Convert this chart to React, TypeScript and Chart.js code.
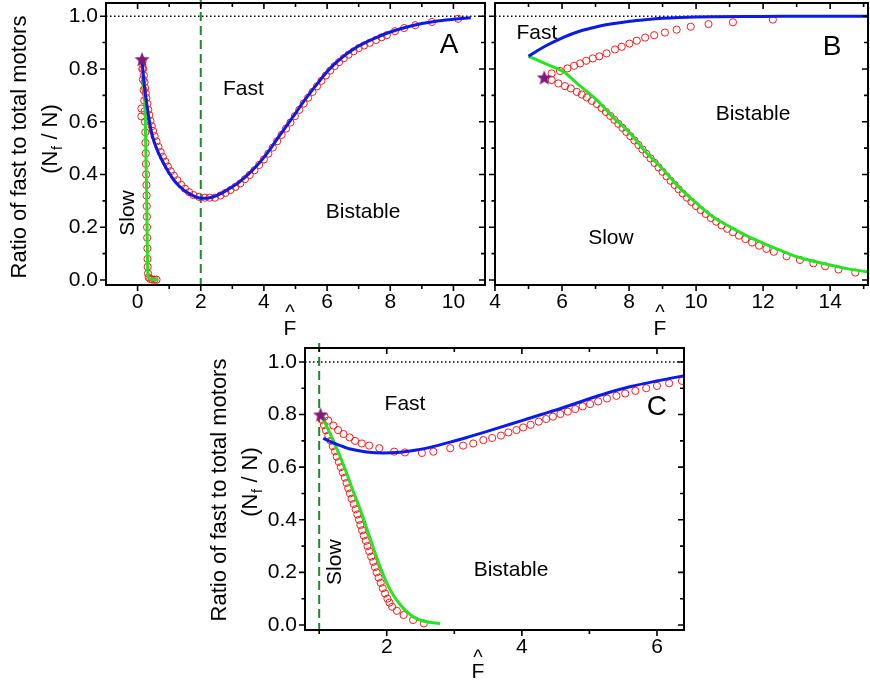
import React, { useEffect, useRef } from "react";
import { Chart, registerables } from "chart.js";
Chart.register(...registerables);

const FONT = '"Liberation Sans", Arial, Helvetica, sans-serif';

// ---------- tick values ----------
const aXMajor = [0, 2, 4, 6, 8, 10];
const aXMinor = [1, 3, 5, 7, 9];
const bXMajor = [4, 6, 8, 10, 12, 14];
const bXMinor = [5, 7, 9, 11, 13, 15];
const cXMajor = [2, 4, 6];
const cXMinor = [1, 3, 5];
const yMajor = [0, 0.2, 0.4, 0.6, 0.8, 1.0];
const yMinor = [0.1, 0.3, 0.5, 0.7, 0.9];

// ---------- panel A ----------
const aBlue = [[0.14,0.835],[0.18,0.78],[0.22,0.73],[0.28,0.675],[0.35,0.62],[0.45,0.555],[0.55,0.515],[0.65,0.485],[0.77,0.455],[0.95,0.415],[1.14,0.38],[1.3,0.358],[1.5,0.337],[1.75,0.32],[2.0,0.31],[2.25,0.311],[2.5,0.32],[2.75,0.335],[3.0,0.353],[3.25,0.374],[3.5,0.40],[3.75,0.43],[4.0,0.465],[4.25,0.505],[4.5,0.548],[4.75,0.59],[5.0,0.632],[5.25,0.675],[5.5,0.715],[5.75,0.753],[6.0,0.789],[6.25,0.82],[6.5,0.846],[6.75,0.868],[7.0,0.887],[7.5,0.916],[8.0,0.94],[8.5,0.958],[9.0,0.972],[9.5,0.982],[10.0,0.988],[10.55,0.994]];
const aGreen = [[0.14,0.835],[0.17,0.78],[0.2,0.73],[0.23,0.68],[0.245,0.6],[0.26,0.5],[0.275,0.4],[0.29,0.3],[0.3,0.2],[0.31,0.1],[0.32,0.04],[0.34,0.012],[0.4,0.004],[0.5,0.002],[0.66,0.001]];
const aRedFast = [[0.16,0.83],[0.18,0.8],[0.2,0.775],[0.22,0.75],[0.24,0.728],[0.26,0.708],[0.28,0.69],[0.31,0.668],[0.34,0.645],[0.37,0.625],[0.41,0.603],[0.45,0.583],[0.49,0.565],[0.54,0.545],[0.6,0.525],[0.66,0.505],[0.73,0.485],[0.8,0.467],[0.88,0.448],[0.96,0.43],[1.05,0.412],[1.15,0.395],[1.26,0.378],[1.38,0.361],[1.5,0.346],[1.63,0.333],[1.77,0.322],[1.95,0.315],[2.13,0.312],[2.28,0.312],[2.45,0.312],[2.62,0.32],[2.78,0.33],[2.94,0.341],[3.1,0.353],[3.25,0.366],[3.4,0.382],[3.55,0.398],[3.7,0.416],[3.85,0.436],[4.0,0.457],[4.14,0.479],[4.28,0.502],[4.42,0.526],[4.56,0.55],[4.7,0.574],[4.84,0.597],[4.98,0.621],[5.12,0.645],[5.26,0.669],[5.4,0.691],[5.54,0.713],[5.68,0.734],[5.82,0.755],[5.96,0.775],[6.1,0.794],[6.24,0.811],[6.38,0.826],[6.53,0.841],[6.68,0.854],[6.84,0.867],[7.0,0.879],[7.17,0.889],[7.35,0.899],[7.55,0.91],[7.72,0.92],[7.89,0.928],[8.15,0.943],[8.44,0.955],[8.79,0.966],[9.32,0.978],[10.15,0.99]];
const aRedSlow = [[0.12,0.65],[0.12,0.62],[0.15,0.8],[0.17,0.76],[0.19,0.72],[0.21,0.68],[0.225,0.64],[0.235,0.6],[0.245,0.56],[0.25,0.52],[0.26,0.48],[0.265,0.44],[0.27,0.4],[0.28,0.36],[0.285,0.32],[0.29,0.28],[0.295,0.24],[0.3,0.2],[0.305,0.16],[0.31,0.12],[0.315,0.08],[0.32,0.05],[0.33,0.025],[0.35,0.01],[0.4,0.004],[0.46,0.002],[0.53,0.001],[0.6,0.001]];
const aStar = [[0.14, 0.837]];

// ---------- panel B ----------
const bBlue = [[5.0,0.848],[5.25,0.868],[5.52,0.888],[5.75,0.903],[6.04,0.92],[6.5,0.942],[7.04,0.96],[7.5,0.971],[8.03,0.981],[8.5,0.987],[9.0,0.992],[9.52,0.995],[10.5,0.998],[12,0.999],[13.5,1.0],[15.2,1.0]];
const bGreen = [[5.0,0.848],[5.5,0.82],[6.04,0.789],[6.5,0.74],[7.04,0.682],[7.5,0.62],[8.03,0.556],[8.5,0.485],[9.03,0.417],[9.5,0.35],[10.02,0.29],[10.5,0.24],[11.01,0.202],[11.5,0.168],[12.01,0.139],[12.5,0.113],[13.0,0.088],[13.5,0.071],[14.0,0.057],[14.5,0.043],[15.1,0.031],[15.3,0.028]];
const bRedUpper = [[5.69,0.783],[5.94,0.792],[6.16,0.802],[6.36,0.812],[6.54,0.821],[6.72,0.831],[6.92,0.84],[7.11,0.848],[7.33,0.859],[7.58,0.874],[7.78,0.884],[8.01,0.896],[8.23,0.907],[8.48,0.919],[8.75,0.928],[9.07,0.938],[9.42,0.949],[9.84,0.96],[10.37,0.97],[11.1,0.977],[12.29,0.987]];
const bRedLower = [[5.69,0.758],[5.89,0.745],[6.09,0.735],[6.26,0.726],[6.44,0.713],[6.59,0.703],[6.74,0.692],[6.89,0.679],[7.04,0.667],[7.18,0.652],[7.31,0.637],[7.44,0.622],[7.56,0.607],[7.68,0.592],[7.8,0.577],[7.92,0.561],[8.04,0.545],[8.16,0.529],[8.28,0.512],[8.4,0.495],[8.52,0.478],[8.64,0.461],[8.76,0.444],[8.88,0.427],[9.0,0.41],[9.12,0.393],[9.24,0.376],[9.36,0.36],[9.48,0.344],[9.6,0.328],[9.73,0.312],[9.86,0.296],[10.0,0.28],[10.14,0.265],[10.29,0.25],[10.44,0.235],[10.6,0.221],[10.76,0.207],[10.93,0.194],[11.1,0.181],[11.28,0.168],[11.47,0.155],[11.67,0.142],[11.88,0.13],[12.1,0.118],[12.32,0.107],[12.7,0.09],[13.1,0.076],[13.5,0.063],[13.85,0.052],[14.25,0.04],[14.75,0.028]];
const bStar = [[5.47, 0.768]];

// ---------- panel C ----------
const cBlue = [[1.06,0.709],[1.25,0.688],[1.46,0.669],[1.7,0.658],[1.95,0.654],[2.2,0.657],[2.44,0.665],[2.7,0.679],[2.94,0.695],[3.2,0.714],[3.45,0.733],[3.7,0.753],[4.0,0.777],[4.3,0.801],[4.62,0.827],[5.01,0.861],[5.3,0.885],[5.6,0.906],[6.0,0.928],[6.5,0.952]];
const cGreen = [[1.04,0.795],[1.12,0.75],[1.21,0.70],[1.31,0.64],[1.41,0.575],[1.5,0.51],[1.6,0.445],[1.7,0.37],[1.8,0.295],[1.9,0.222],[2.0,0.16],[2.1,0.112],[2.2,0.077],[2.3,0.05],[2.4,0.03],[2.55,0.014],[2.79,0.006]];
const cRedUpper = [[1.08,0.792],[1.135,0.777],[1.21,0.758],[1.28,0.741],[1.36,0.726],[1.45,0.713],[1.53,0.70],[1.63,0.69],[1.74,0.682],[1.89,0.672],[2.11,0.659],[2.27,0.656],[2.52,0.654],[2.69,0.659],[2.94,0.672],[3.13,0.682],[3.28,0.69],[3.43,0.703],[3.56,0.711],[3.69,0.72],[3.8,0.732],[3.92,0.741],[4.02,0.751],[4.13,0.761],[4.25,0.773],[4.36,0.783],[4.46,0.792],[4.57,0.802],[4.68,0.811],[4.79,0.821],[4.9,0.831],[5.01,0.84],[5.13,0.85],[5.26,0.861],[5.4,0.871],[5.53,0.88],[5.68,0.89],[5.84,0.9],[6.0,0.909],[6.18,0.919],[6.37,0.928]];
const cRedLower = [[1.04,0.78],[1.07,0.76],[1.1,0.74],[1.135,0.72],[1.17,0.7],[1.2,0.68],[1.235,0.66],[1.26,0.64],[1.29,0.62],[1.32,0.6],[1.35,0.58],[1.38,0.56],[1.405,0.54],[1.43,0.52],[1.455,0.5],[1.48,0.48],[1.51,0.46],[1.54,0.44],[1.565,0.42],[1.59,0.4],[1.61,0.38],[1.635,0.36],[1.66,0.34],[1.69,0.32],[1.715,0.3],[1.74,0.28],[1.77,0.26],[1.8,0.24],[1.825,0.22],[1.85,0.2],[1.88,0.18],[1.91,0.16],[1.94,0.14],[1.975,0.12],[2.01,0.1],[2.04,0.085],[2.08,0.069],[2.15,0.054],[2.25,0.038],[2.39,0.019],[2.55,0.006]];
const cStar = [[1.02, 0.8]];

// ---------- layout / styles ----------
const YW = 50;
const XH = 30;
const M = 40; // hidden canvas margin so Chart.js auto padding never moves the plot box
const BLUE = "#0a1ae8";
const GREEN = "#22e622";
const RED = "#ff1a1a";
const DGREEN = "#1f8a2a";

type Pt = number[];
interface Note { t: string; x: number; y: number; s: number; r?: boolean }
interface Panel {
  area: { l: number; t: number; r: number; b: number };
  xr: number[];
  yr: number[];
  xMajor: number[];
  xMinor: number[];
  yLabels: boolean;
  blue: Pt[];
  green: Pt[];
  reds: Pt[][];
  star: Pt[];
  vline: number | null;
  notes: Note[];
  xTitle: { x: number; base: number; caret: number };
  yTitle: { x1: number; x2: number; c1: number; c2: number } | null;
}

const panels: Panel[] = [
  {
    area: { l: 106, t: 3, r: 485, b: 285 },
    xr: [-1, 11], yr: [-0.019, 1.05],
    xMajor: aXMajor, xMinor: aXMinor, yLabels: true,
    blue: aBlue, green: aGreen, reds: [aRedFast, aRedSlow], star: aStar,
    vline: 2,
    notes: [
      { t: "Fast", x: 3.35, y: 0.723, s: 21 },
      { t: "Slow", x: -0.29, y: 0.254, s: 21, r: true },
      { t: "Bistable", x: 7.14, y: 0.258, s: 21 },
      { t: "A", x: 9.86, y: 0.89, s: 28 },
    ],
    xTitle: { x: 290, base: 335, caret: 319 },
    yTitle: { x1: 26, x2: 57, c1: 147, c2: 139 },
  },
  {
    area: { l: 495, t: 3, r: 868, b: 285 },
    xr: [4, 15.13], yr: [-0.019, 1.05],
    xMajor: bXMajor, xMinor: bXMinor, yLabels: false,
    blue: bBlue, green: bGreen, reds: [bRedUpper, bRedLower], star: bStar,
    vline: null,
    notes: [
      { t: "Fast", x: 5.25, y: 0.936, s: 21 },
      { t: "Bistable", x: 11.7, y: 0.629, s: 21 },
      { t: "Slow", x: 7.46, y: 0.159, s: 21 },
      { t: "B", x: 14.06, y: 0.883, s: 28 },
    ],
    xTitle: { x: 660, base: 335, caret: 319 },
    yTitle: null,
  },
  {
    area: { l: 305, t: 348, r: 684, b: 630 },
    xr: [0.79, 6.4], yr: [-0.019, 1.053],
    xMajor: cXMajor, xMinor: cXMinor, yLabels: true,
    blue: cBlue, green: cGreen, reds: [cRedUpper, cRedLower], star: cStar,
    vline: 1.0,
    notes: [
      { t: "Fast", x: 2.27, y: 0.841, s: 21 },
      { t: "Slow", x: 1.23, y: 0.239, s: 21, r: true },
      { t: "Bistable", x: 3.84, y: 0.208, s: 21 },
      { t: "C", x: 6.0, y: 0.826, s: 28 },
    ],
    xTitle: { x: 478, base: 678, caret: 664 },
    yTitle: { x1: 226, x2: 257, c1: 490, c2: 482 },
  },
];

function makeStar(): HTMLCanvasElement {
  const c = document.createElement("canvas");
  c.width = 18;
  c.height = 18;
  const g = c.getContext("2d")!;
  g.fillStyle = "#7b1c7b";
  g.beginPath();
  for (let i = 0; i < 10; i++) {
    const r = i % 2 === 0 ? 8 : 3.4;
    const ang = -Math.PI / 2 + (i * Math.PI) / 5;
    const px = 9 + r * Math.cos(ang);
    const py = 9.8 + r * Math.sin(ang);
    if (i === 0) g.moveTo(px, py);
    else g.lineTo(px, py);
  }
  g.closePath();
  g.fill();
  return c;
}

function makeDecor(p: Panel) {
  return {
    id: "decor",
    beforeDatasetsDraw(chart: any) {
      const { ctx, chartArea: a } = chart;
      const xs = chart.scales.x;
      const ys = chart.scales.y;
      ctx.save();
      ctx.strokeStyle = "#000";
      ctx.lineWidth = 1.5;
      ctx.setLineDash([1.5, 2.5]);
      const y1 = ys.getPixelForValue(1);
      ctx.beginPath();
      ctx.moveTo(a.left, y1);
      ctx.lineTo(a.right, y1);
      ctx.stroke();
      if (p.vline !== null) {
        ctx.strokeStyle = DGREEN;
        ctx.lineWidth = 2;
        ctx.setLineDash([9, 5]);
        const xv = xs.getPixelForValue(p.vline);
        ctx.beginPath();
        ctx.moveTo(xv, a.top - 5);
        ctx.lineTo(xv, a.bottom);
        ctx.stroke();
      }
      ctx.restore();
    },
    afterDraw(chart: any) {
      const { ctx, chartArea: a } = chart;
      const xs = chart.scales.x;
      const ys = chart.scales.y;
      ctx.save();
      ctx.setLineDash([]);
      ctx.strokeStyle = "#000";
      ctx.lineWidth = 1.6;
      ctx.beginPath();
      const xt = (vals: number[], out: number, inn: number) => {
        for (const v of vals) {
          const px = xs.getPixelForValue(v);
          ctx.moveTo(px, a.bottom);
          ctx.lineTo(px, a.bottom + out);
          ctx.moveTo(px, a.top);
          ctx.lineTo(px, a.top + inn);
        }
      };
      const yt = (vals: number[], out: number, inn: number) => {
        for (const v of vals) {
          const py = ys.getPixelForValue(v);
          ctx.moveTo(a.left - out, py);
          ctx.lineTo(a.left, py);
          ctx.moveTo(a.right - inn, py);
          ctx.lineTo(a.right, py);
        }
      };
      xt(p.xMajor, 6, 6);
      xt(p.xMinor, 4, 4);
      yt(yMajor, 6, 6);
      yt(yMinor, 3.5, 4);
      ctx.stroke();
      ctx.lineWidth = 2;
      ctx.strokeRect(a.left, a.top, a.right - a.left, a.bottom - a.top);

      ctx.fillStyle = "#000";
      ctx.textAlign = "center";
      ctx.textBaseline = "middle";
      for (const n of p.notes) {
        ctx.font = `${n.s}px ${FONT}`;
        const px = xs.getPixelForValue(n.x);
        const py = ys.getPixelForValue(n.y);
        if (n.r) {
          ctx.save();
          ctx.translate(px, py);
          ctx.rotate(-Math.PI / 2);
          ctx.fillText(n.t, 0, 0);
          ctx.restore();
        } else {
          ctx.fillText(n.t, px, py);
        }
      }

      // page-pixel positions -> canvas pixels (canvas is shifted by -M)
      ctx.textBaseline = "alphabetic";
      ctx.font = `21px ${FONT}`;
      ctx.fillText("F", p.xTitle.x + M, p.xTitle.base + M);
      ctx.font = `20px ${FONT}`;
      ctx.fillText("^", p.xTitle.x + M, p.xTitle.caret + M);

      const t = p.yTitle;
      if (t) {
        const big = `22px ${FONT}`;
        const small = `14px ${FONT}`;
        ctx.save();
        ctx.translate(t.x1 + M, t.c1 + M);
        ctx.rotate(-Math.PI / 2);
        ctx.font = big;
        ctx.textAlign = "center";
        ctx.fillText("Ratio of fast to total motors", 0, 0);
        ctx.restore();

        ctx.save();
        ctx.translate(t.x2 + M, t.c2 + M);
        ctx.rotate(-Math.PI / 2);
        ctx.textAlign = "left";
        ctx.font = big;
        const w1 = ctx.measureText("(N").width;
        const w3 = ctx.measureText(" / N)").width;
        ctx.font = small;
        const w2 = ctx.measureText("f").width + 1;
        let cx = -(w1 + w2 + w3) / 2;
        ctx.font = big;
        ctx.fillText("(N", cx, 0);
        cx += w1;
        ctx.font = small;
        ctx.fillText("f", cx + 0.5, 5);
        cx += w2;
        ctx.font = big;
        ctx.fillText(" / N)", cx, 0);
        ctx.restore();
      }
      ctx.restore();
    },
  };
}

const toXY = (arr: Pt[]) => arr.map((d) => ({ x: d[0], y: d[1] }));

function buildConfig(p: Panel, star: HTMLCanvasElement): any {
  const lineDs = (data: Pt[], color: string, order: number) => ({
    type: "scatter",
    data: toXY(data),
    showLine: true,
    borderColor: color,
    borderWidth: 3,
    pointRadius: 0,
    cubicInterpolationMode: "monotone",
    fill: false,
    order,
  });
  const redDs = (data: Pt[]) => ({
    type: "scatter",
    data: toXY(data),
    showLine: false,
    pointStyle: "circle",
    pointRadius: 3.6,
    pointBorderWidth: 1,
    borderColor: RED,
    pointBorderColor: RED,
    backgroundColor: "rgba(0,0,0,0)",
    pointBackgroundColor: "rgba(0,0,0,0)",
    order: 3,
  });
  const tickFont = { family: FONT, size: 21 };
  return {
    type: "scatter",
    data: {
      datasets: [
        {
          type: "scatter",
          data: toXY(p.star),
          pointStyle: star,
          pointRadius: 8,
          showLine: false,
          order: 0,
        },
        lineDs(p.blue, BLUE, 1),
        lineDs(p.green, GREEN, 2),
        ...p.reds.map(redDs),
      ],
    },
    options: {
      responsive: false,
      animation: false,
      events: [],
      layout: {
        padding: {
          left: p.area.l + M - (p.yLabels ? YW : 0),
          top: p.area.t + M,
          right: 870 - p.area.r + M,
          bottom: 684 - p.area.b - XH + M,
        },
      },
      plugins: {
        legend: { display: false },
        tooltip: { enabled: false },
        title: { display: false },
      },
      scales: {
        x: {
          type: "linear",
          position: "bottom",
          min: p.xr[0],
          max: p.xr[1],
          afterFit: (s: any) => {
            s.height = XH;
          },
          afterBuildTicks: (s: any) => {
            s.ticks = p.xMajor.map((v) => ({ value: v }));
          },
          grid: { display: false, drawTicks: false },
          border: { display: false },
          ticks: {
            color: "#000",
            font: tickFont,
            padding: 5,
            maxRotation: 0,
            autoSkip: false,
            callback: (v: any) => String(v),
          },
        },
        y: {
          type: "linear",
          position: "left",
          display: p.yLabels,
          min: p.yr[0],
          max: p.yr[1],
          afterFit: (s: any) => {
            s.width = p.yLabels ? YW : 0;
          },
          afterBuildTicks: (s: any) => {
            s.ticks = yMajor.map((v) => ({ value: v }));
          },
          grid: { display: false, drawTicks: false },
          border: { display: false },
          ticks: {
            color: "#000",
            font: tickFont,
            padding: 8,
            autoSkip: false,
            callback: (v: any) => Number(v).toFixed(1),
          },
        },
      },
    },
    plugins: [makeDecor(p)],
  };
}

function PanelChart({ p }: { p: Panel }) {
  const ref = useRef<HTMLCanvasElement>(null);
  useEffect(() => {
    if (!ref.current) return;
    const chart = new Chart(ref.current, buildConfig(p, makeStar()));
    return () => chart.destroy();
  }, [p]);
  return (
    <canvas
      ref={ref}
      width={870 + 2 * M}
      height={684 + 2 * M}
      style={{
        position: "absolute",
        left: -M,
        top: -M,
        width: 870 + 2 * M,
        height: 684 + 2 * M,
      }}
    />
  );
}

export default function App() {
  return (
    <div
      style={{
        position: "absolute",
        left: 0,
        top: 0,
        width: 870,
        height: 684,
        background: "#fff",
        overflow: "hidden",
      }}
    >
      {panels.map((p, i) => (
        <PanelChart key={i} p={p} />
      ))}
    </div>
  );
}
